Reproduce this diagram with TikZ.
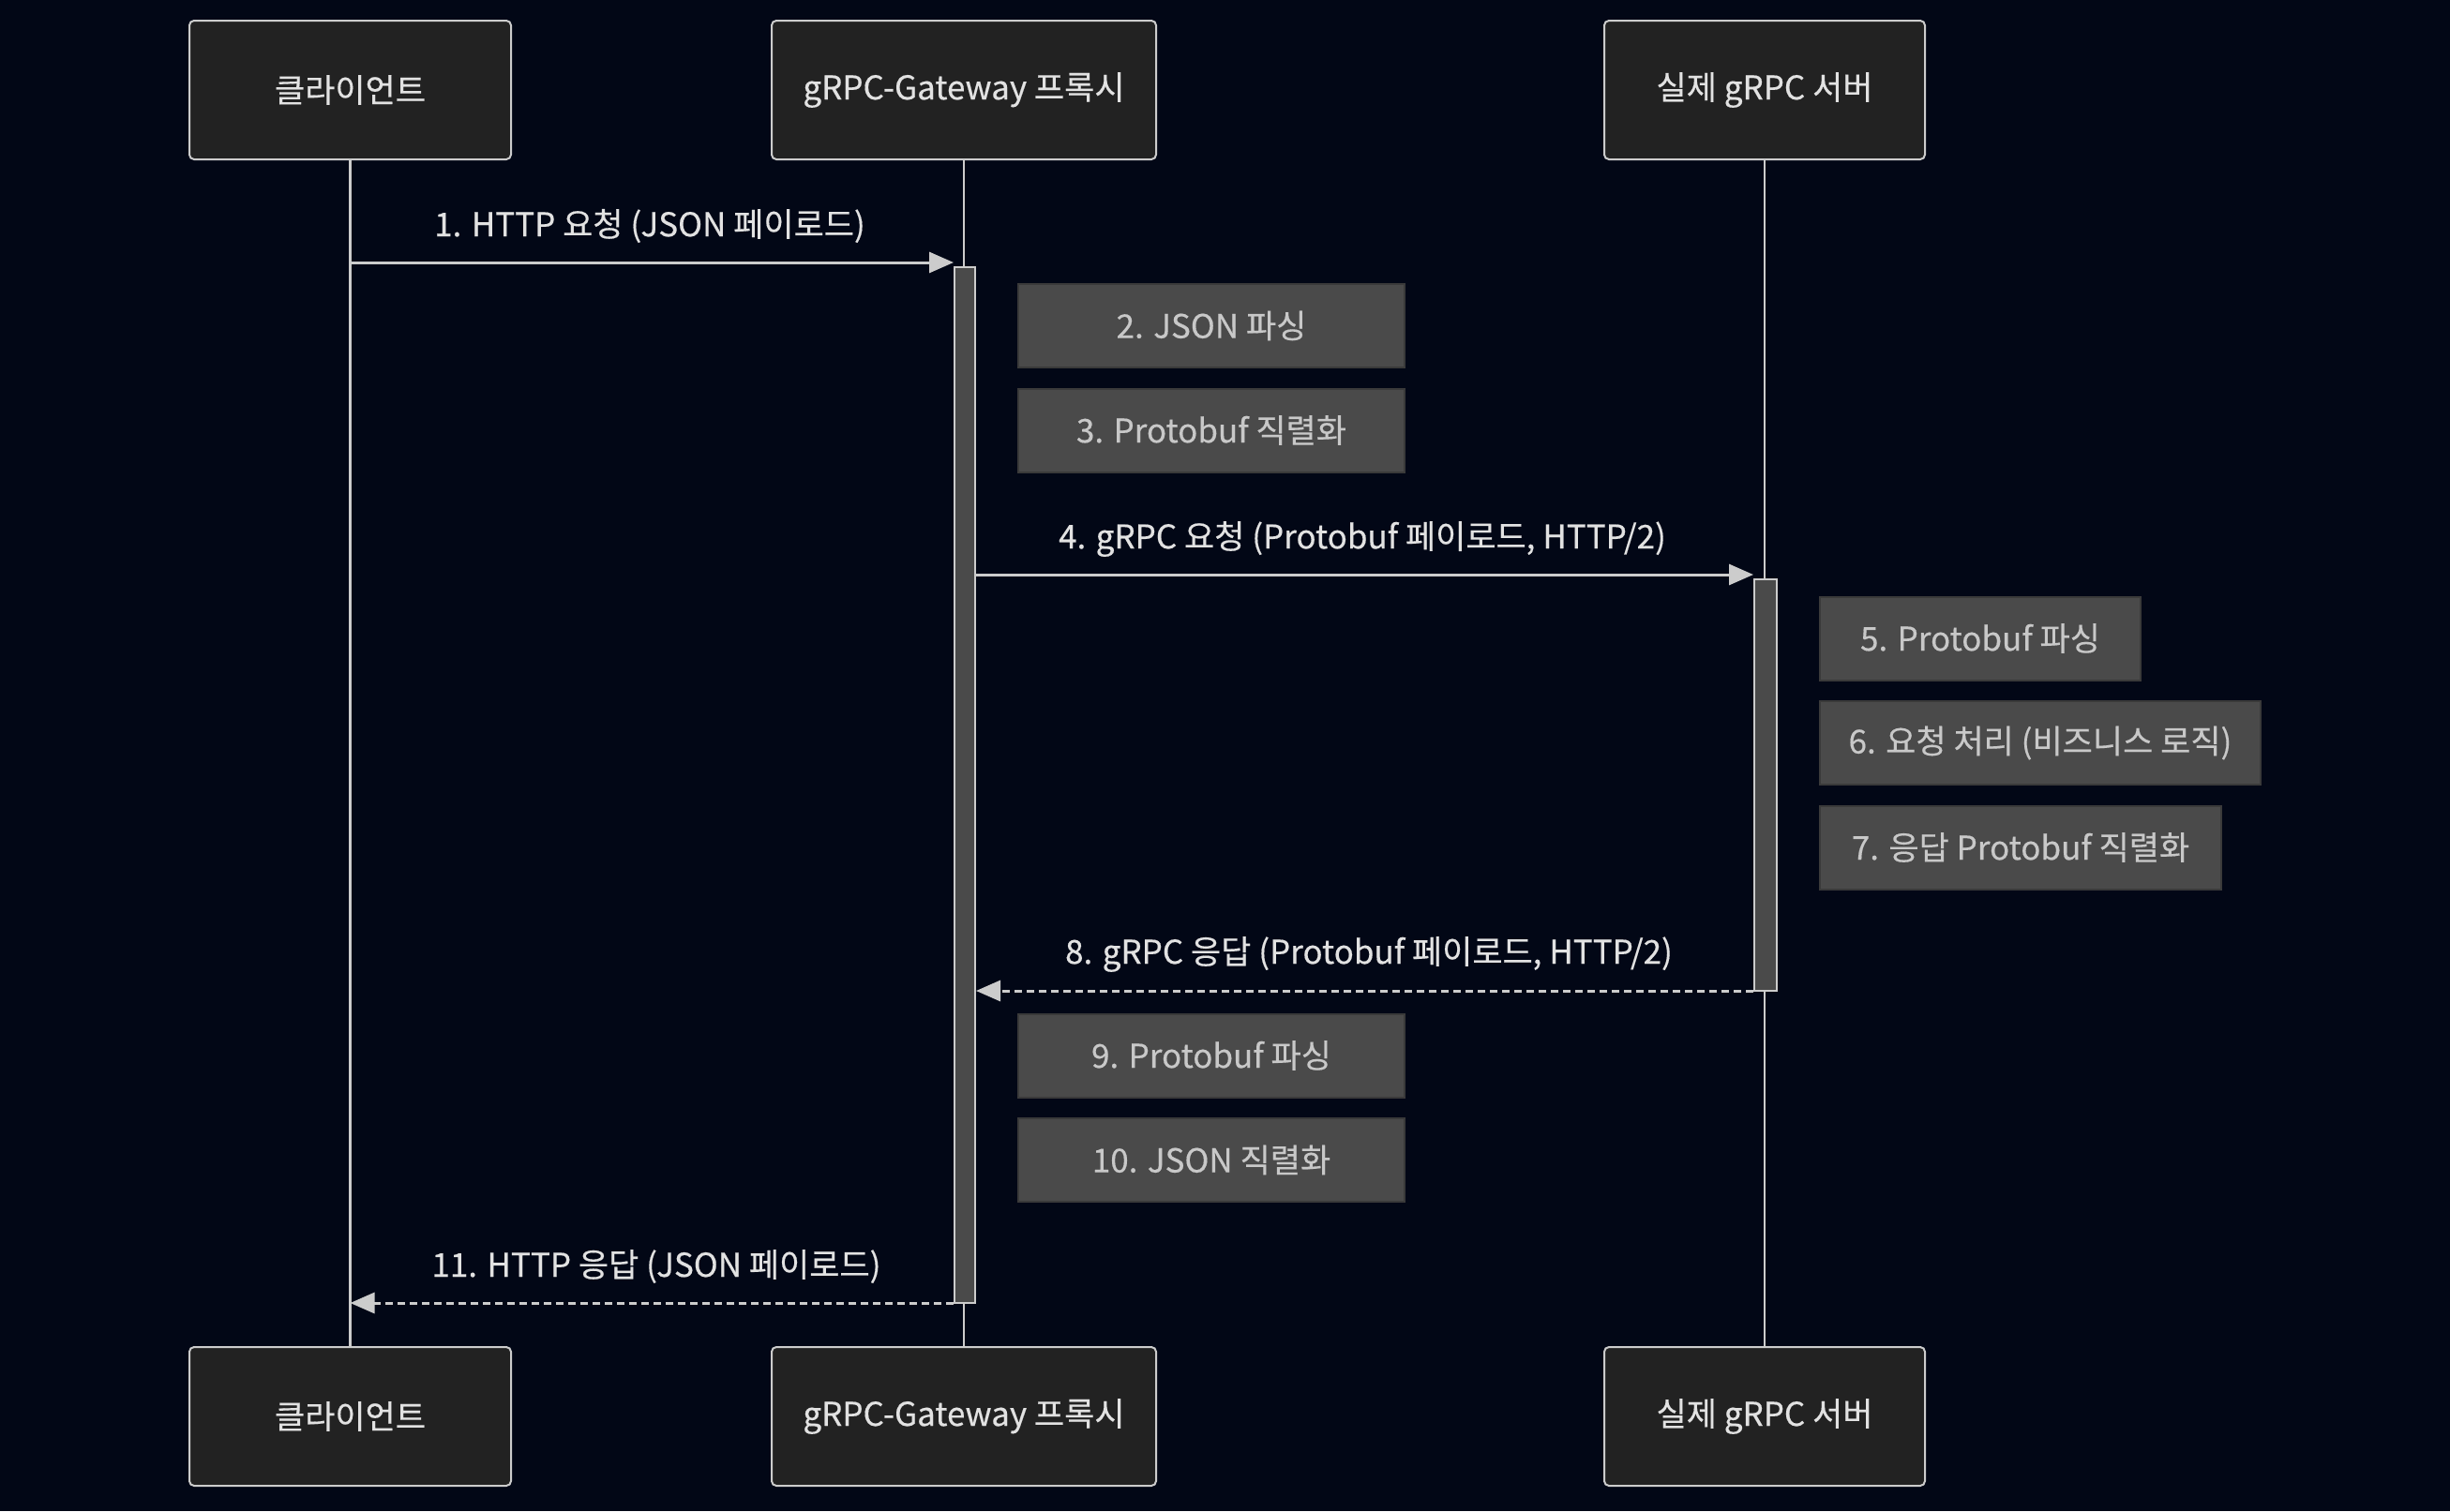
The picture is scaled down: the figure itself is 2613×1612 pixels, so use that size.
\documentclass[tikz,border=0pt]{standalone}
\usepackage{fontspec}
\setmainfont[FakeBold=0.4]{Noto Sans CJK KR}
\usetikzlibrary{arrows.meta}
\definecolor{bg}{HTML}{020716}
\definecolor{actfill}{HTML}{222222}
\definecolor{actline}{HTML}{CCCCCC}
\definecolor{notefill}{HTML}{4A4A4A}
\definecolor{noteline}{HTML}{3A3A3A}
\definecolor{notetext}{HTML}{C8C8C8}
\definecolor{msgtext}{HTML}{E2E2E2}
\definecolor{linec}{HTML}{CCCCCC}
\definecolor{barfill}{HTML}{4A4A4A}
\begin{document}
\begin{tikzpicture}[x=1pt,y=-1pt,
  actor/.style={draw=actline, fill=actfill, rounded corners=5pt, line width=2pt,
    minimum height=148pt, inner sep=0pt, text=msgtext, font=\fontsize{35}{42}\selectfont},
  notebox/.style={draw=noteline, fill=notefill, line width=2pt, anchor=west,
    minimum height=89pt, inner sep=0pt, text=notetext, font=\fontsize{35}{42}\selectfont},
  actbar/.style={draw=linec, fill=barfill, line width=2pt, minimum width=22pt, inner sep=0pt},
  lifeline/.style={draw=linec, line width=2.5pt},
  msg/.style={draw=linec, line width=3pt, -{Triangle[length=26pt,width=22pt]}},
  reply/.style={msg, dash pattern=on 8pt off 5pt},
  msglabel/.style={text=msgtext, font=\fontsize{35}{42}\selectfont, inner sep=0pt}
]
\fill[bg] (0,0) rectangle (2613,1612);
\useasboundingbox (0,0) rectangle (2613,1612);

% actors
\node[actor, minimum width=343pt] (c1) at (373.5,96) {\raisebox{-2pt}{클라이언트}};
\node[actor, minimum width=410pt] (g1) at (1028,96) {\raisebox{-2pt}{gRPC-Gateway 프록시}};
\node[actor, minimum width=342pt] (s1) at (1882,96) {\raisebox{-2pt}{실제 gRPC 서버}};
\node[actor, minimum width=343pt] (c2) at (373.5,1511) {\raisebox{-2pt}{클라이언트}};
\node[actor, minimum width=410pt] (g2) at (1028,1511) {\raisebox{-2pt}{gRPC-Gateway 프록시}};
\node[actor, minimum width=342pt] (s2) at (1882,1511) {\raisebox{-2pt}{실제 gRPC 서버}};

% lifelines
\draw[lifeline] (c1.south) -- (c2.north);
\draw[lifeline] (g1.south) -- (g2.north);
\draw[lifeline] (s1.south) -- (s2.north);

% activation bars
\node[actbar, minimum height=1105pt] (ga) at (1029,837.5) {};
\node[actbar, minimum height=439pt, minimum width=24pt] (sa) at (1883,837.5) {};

% message 1
\coordinate (m1a) at (c1.south |- 0,280);
\coordinate (m1b) at (ga.west |- 0,280);
\draw[msg] (m1a) -- (m1b);
\node[msglabel] (l1) at (693,241) {1. HTTP 요청 (JSON 페이로드)};

% notes on gateway
\node[notebox, minimum width=412pt] (n2) at (1085,347.5) {2. JSON 파싱};
\node[notebox, minimum width=412pt] (n3) at (1085,459) {3. Protobuf 직렬화};

% message 4
\coordinate (m4a) at (ga.east |- 0,613);
\coordinate (m4b) at (sa.west |- 0,613);
\draw[msg] (m4a) -- (m4b);
\node[msglabel] (l4) at (1453,575) {4. gRPC 요청 (Protobuf 페이로드, HTTP/2)};

% notes on server
\node[notebox, minimum width=342pt] (n5) at (1940,681) {5. Protobuf 파싱};
\node[notebox, minimum width=470pt] (n6) at (1940,792.5) {6. 요청 처리 (비즈니스 로직)};
\node[notebox, minimum width=428pt] (n7) at (1940,904) {7. 응답 Protobuf 직렬화};

% message 8
\coordinate (m8a) at (sa.west |- 0,1057);
\coordinate (m8b) at (ga.east |- 0,1057);
\draw[reply] (m8a) -- (m8b);
\node[msglabel] (l8) at (1460,1018) {8. gRPC 응답 (Protobuf 페이로드, HTTP/2)};

% notes on gateway
\node[notebox, minimum width=412pt] (n9) at (1085,1126) {9. Protobuf 파싱};
\node[notebox, minimum width=412pt] (n10) at (1085,1237.5) {10. JSON 직렬화};

% message 11
\coordinate (m11a) at (ga.west |- 0,1390);
\coordinate (m11b) at (c1.south |- 0,1390);
\draw[reply] (m11a) -- (m11b);
\node[msglabel] (l11) at (700,1351) {11. HTTP 응답 (JSON 페이로드)};
\end{tikzpicture}
\end{document}
